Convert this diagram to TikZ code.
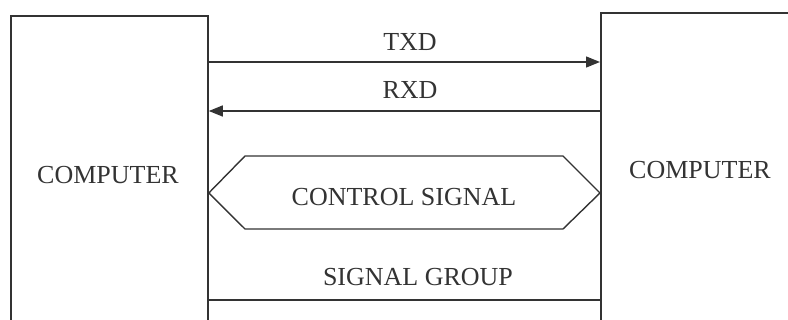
\documentclass[tikz,border=0pt]{standalone}
\usepackage{fontspec}
\setmainfont{Liberation Serif}
\usetikzlibrary{arrows.meta,calc}
\begin{document}
\begin{tikzpicture}[x=1pt,y=-1pt,
  ink/.style={draw=black!80,line width=1.8pt},
  comp/.style={ink,rectangle,inner sep=0pt,anchor=north west},
  sig/.style={draw=black!80,line width=1.4pt},
  arr/.style={sig,-{Triangle[length=14pt,width=11pt]}},
  lbl/.style={font=\fontsize{26}{30}\selectfont,text=black!80,inner sep=0pt}]
\useasboundingbox (0,0) rectangle (788,320);
\clip (0,0) rectangle (788,320);
\node[comp,minimum width=197pt,minimum height=320pt] (L) at (10,15) {};
\node[comp,minimum width=200pt,minimum height=320pt] (R) at (600,12) {};
\node[lbl] (lt) at (108,175) {COMPUTER};
\node[lbl] (rt) at (700,170) {COMPUTER};
\coordinate (ytx) at (0,62);
\coordinate (yrx) at (0,111);
\coordinate (ycs) at (0,193);
\coordinate (ysg) at (0,300);
\draw[arr] (L.east |- ytx) -- (R.west |- ytx);
\draw[arr] (R.west |- yrx) -- (L.east |- yrx);
\draw[sig] (L.east |- ysg) -- (R.west |- ysg);
\node[lbl] (tx) at (410,42) {TXD};
\node[lbl] (rx) at (410,90) {RXD};
\node[lbl] (sg) at (418,277) {SIGNAL GROUP};
\draw[sig] (L.east |- ycs) -- (245,156) -- (563,156) -- (R.west |- ycs) -- (563,229) -- (245,229) -- cycle;
\node[lbl] (cs) at (404,197) {CONTROL SIGNAL};
\end{tikzpicture}
\end{document}
